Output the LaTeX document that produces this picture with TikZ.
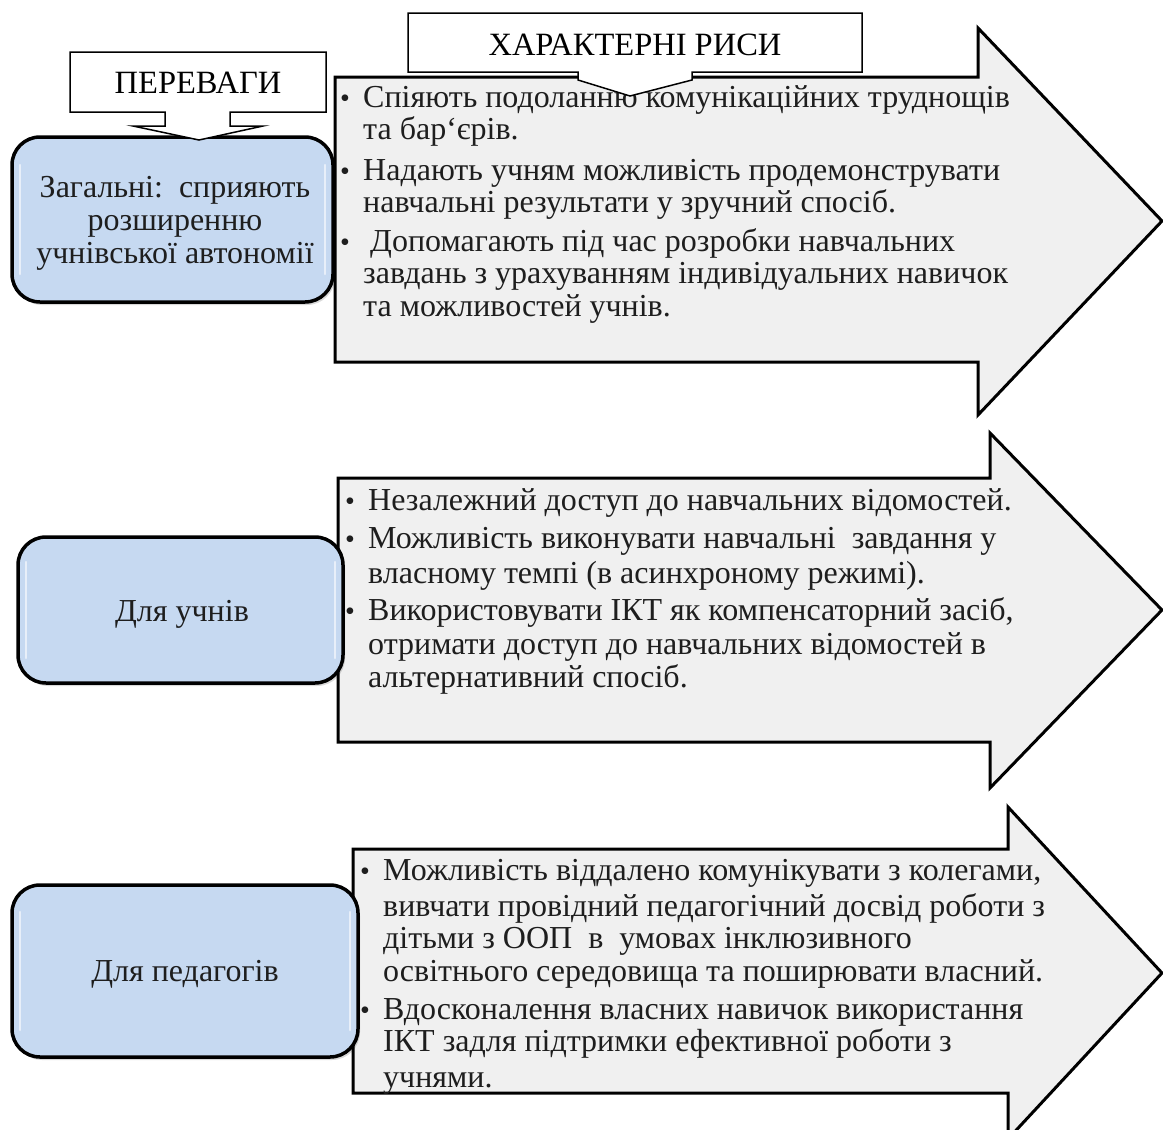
\documentclass[tikz,border=0pt]{standalone}
\usepackage{fontspec}
\setmainfont{Liberation Serif}
\usetikzlibrary{shadows}
\definecolor{boxblue}{HTML}{C6D9F1}
\definecolor{arrowgrey}{HTML}{F0F0F0}
\definecolor{txt}{HTML}{1E1E1E}
\begin{document}
\begin{tikzpicture}[x=1pt,y=-1pt,
  arrowshape/.style={draw=black,line width=3pt,fill=arrowgrey,line join=miter},
  catbox/.style={draw=black,line width=3.5pt,fill=boxblue,rounded corners=28pt,inner sep=0pt,
    drop shadow={shadow xshift=2pt,shadow yshift=-3pt,opacity=0.15,fill=black}},
  gloss/.style={draw=white,line width=2.5pt,line cap=round,opacity=0.6},
  boxtxt/.style={anchor=base,inner sep=0pt,font=\fontsize{32}{33}\selectfont,text=txt},
  item/.style={anchor=base west,inner sep=0pt,font=\fontsize{32}{33}\selectfont,text=txt},
  bul/.style={anchor=base,inner sep=0pt,font=\fontsize{28}{28}\selectfont,text=txt},
  callout/.style={draw=black,line width=1.5pt,fill=white,line join=miter},
  headtxt/.style={anchor=base,inner sep=0pt,font=\fontsize{32.5}{33}\selectfont,text=black}
]
\useasboundingbox (0,0) rectangle (1163,1130);
\clip (0,0) rectangle (1163,1130);

% ---------- arrow 1 ----------
\draw[arrowshape] (335,77) -- (978,77) -- (978,28) -- (1162,221) -- (978,415) -- (978,362) -- (335,362) -- cycle;
\node[bul] (b11) at (345,107) {•};
\node[item] (t11) at (363,107) {Спіяють подоланню комунікаційних труднощів};
\node[item] (t12) at (363,139) {та бар`єрів.};
\node[bul] (b12) at (345,180) {•};
\node[item] (t13) at (363,180) {Надають учням можливість продемонструвати};
\node[item] (t14) at (363,212) {навчальні результати у зручний спосіб.};
\node[bul] (b13) at (345,251) {•};
\node[item] (t15) at (370,251) {Допомагають під час розробки навчальних};
\node[item] (t16) at (363,283) {завдань з урахуванням індивідуальних навичок};
\node[item] (t17) at (363,316) {та можливостей учнів.};

% ---------- arrow 2 ----------
\draw[arrowshape] (338,478) -- (990,478) -- (990,433) -- (1162,610) -- (990,788) -- (990,742) -- (338,742) -- cycle;
\node[bul] (b21) at (350,510) {•};
\node[item] (t21) at (368,510) {Незалежний доступ до навчальних відомостей.};
\node[bul] (b22) at (350,548) {•};
\node[item] (t22) at (368,548) {Можливість виконувати навчальні\ \ завдання у};
\node[item] (t23) at (368,583) {власному темпі (в асинхроному режимі).};
\node[bul] (b23) at (350,620) {•};
\node[item] (t24) at (368,620) {Використовувати ІКТ як компенсаторний засіб,};
\node[item] (t25) at (368,654) {отримати доступ до навчальних відомостей в};
\node[item] (t26) at (368,687) {альтернативний спосіб.};

% ---------- arrow 3 ----------
\draw[arrowshape] (353,849) -- (1008,849) -- (1008,807) -- (1162,973) -- (1008,1139) -- (1008,1093) -- (353,1093) -- cycle;
\node[bul] (b31) at (365,880) {•};
\node[item] (t31) at (383,880) {Можливість віддалено комунікувати з колегами,};
\node[item] (t32) at (383,916) {вивчати провідний педагогічний досвід роботи з};
\node[item] (t33) at (383,948) {дітьми з ООП\ \ в\ \ умовах інклюзивного};
\node[item] (t34) at (383,981) {освітнього середовища та поширювати власний.};
\node[bul] (b32) at (365,1019) {•};
\node[item] (t35) at (383,1019) {Вдосконалення власних навичок використання};
\node[item] (t36) at (383,1051) {ІКТ задля підтримки ефективної роботи з};
\node[item] (t37) at (383,1087) {учнями.};

% ---------- category boxes ----------
\node[catbox,minimum width=321pt,minimum height=165pt] (c1) at (172.5,219.5) {};
\node[catbox,minimum width=325pt,minimum height=146pt] (c2) at (180.5,610) {};
\node[catbox,minimum width=346pt,minimum height=172pt] (c3) at (185,971) {};
\draw[gloss] (20,165) -- (20,274);
\draw[gloss] (325,165) -- (325,274);
\draw[gloss] (26,562) -- (26,658);
\draw[gloss] (335,562) -- (335,658);
\draw[gloss] (20,912) -- (20,1030);
\draw[gloss] (350,912) -- (350,1030);

\node[boxtxt] (c1a) at (175,197) {Загальні:\ \ сприяють};
\node[boxtxt] (c1b) at (175,230) {розширенню};
\node[boxtxt] (c1c) at (175,263) {учнівської автономії};
\node[boxtxt] (c2t) at (182,621) {Для учнів};
\node[boxtxt] (c3t) at (185,981) {Для педагогів};

% ---------- callouts ----------
\draw[callout] (70,52) -- (326,52) -- (326,112) -- (230,112) -- (230,126) -- (263,126) -- (199,140)
  -- (133,126) -- (165,126) -- (165,112) -- (70,112) -- cycle;
\node[headtxt] (h1) at (198,93) {ПЕРЕВАГИ};

\draw[callout] (408,13) -- (862,13) -- (862,72) -- (692,72) -- (692,80) -- (630,96)
  -- (578,80) -- (578,72) -- (408,72) -- cycle;
\node[headtxt] (h2) at (635,55) {ХАРАКТЕРНІ РИСИ};
\end{tikzpicture}
\end{document}
